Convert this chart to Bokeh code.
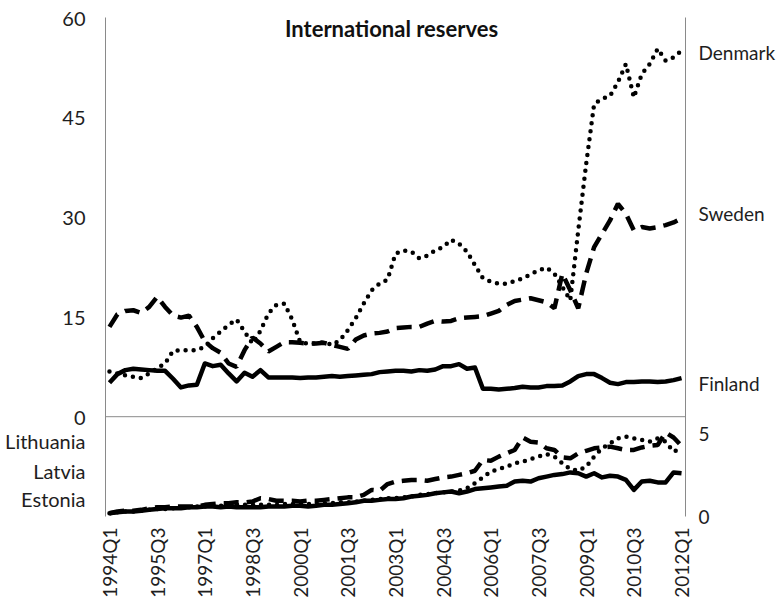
import math
from bokeh.plotting import figure
from bokeh.models import (Range1d, LinearAxis, FixedTicker, Span, Label, ColumnDataSource,
                          NumeralTickFormatter)
from bokeh.embed import file_html
from bokeh.resources import INLINE

# ---------------- data (quarterly, 1994Q1 .. 2012Q1) ----------------
quarters = [f"{y}Q{q}" for y in range(1994, 2013) for q in (1, 2, 3, 4)][:73]
tick_every = 6

denmark = [6.8, 6.5, 6.2, 6.0, 5.8, 6.5, 7.3, 8.0, 9.9, 10.0, 10.0, 10.0, 10.5, 11.8, 12.8, 13.8,
           14.6, 12.8, 11.0, 12.9, 15.5, 16.8, 17.0, 14.6, 11.2, 11.0, 11.0, 11.2, 10.8, 11.5, 13.0, 14.8,
           17.0, 19.0, 20.0, 20.6, 24.5, 25.0, 24.8, 23.8, 24.2, 25.0, 25.5, 26.6, 26.0, 24.8, 22.8, 20.8,
           20.3, 20.0, 20.0, 20.4, 20.8, 21.4, 22.0, 22.4, 21.5, 19.5, 17.5, 28.0, 38.0, 47.0, 47.8, 48.2,
           50.3, 53.0, 48.0, 51.5, 53.0, 55.3, 53.5, 54.0, 55.0]
sweden = [13.5, 15.4, 15.9, 16.0, 15.6, 16.5, 18.0, 16.5, 15.2, 14.9, 15.2, 13.5, 11.3, 10.3, 9.6, 8.0,
          7.5, 10.0, 11.9, 11.0, 9.8, 10.5, 11.2, 11.2, 11.1, 11.0, 11.0, 11.1, 10.8, 10.5, 10.2, 11.6,
          12.2, 12.5, 12.6, 12.8, 13.3, 13.4, 13.5, 13.5, 14.0, 14.4, 14.3, 14.4, 14.8, 14.9, 15.0, 15.1,
          15.5, 15.9, 16.8, 17.4, 17.6, 17.8, 17.5, 17.2, 16.3, 21.5, 19.0, 16.3, 21.5, 25.5, 27.5, 29.5,
          32.0, 30.5, 28.0, 28.5, 28.3, 28.5, 28.8, 29.2, 29.8]
finland = [5.1, 6.4, 7.0, 7.2, 7.1, 7.0, 6.9, 6.9, 5.7, 4.4, 4.7, 4.8, 8.0, 7.6, 7.8, 6.5,
           5.3, 6.6, 6.0, 7.0, 5.9, 5.9, 5.9, 5.9, 5.8, 5.9, 5.9, 6.0, 6.1, 6.0, 6.1, 6.2,
           6.3, 6.4, 6.7, 6.8, 6.9, 6.9, 6.8, 7.0, 6.9, 7.1, 7.6, 7.6, 7.9, 7.2, 7.4, 4.2,
           4.2, 4.1, 4.2, 4.3, 4.5, 4.4, 4.4, 4.6, 4.6, 4.7, 5.3, 6.1, 6.4, 6.4, 5.8, 5.1,
           4.9, 5.2, 5.2, 5.3, 5.3, 5.2, 5.3, 5.5, 5.8]
lithuania = [0.2, 0.25, 0.3, 0.3, 0.35, 0.4, 0.45, 0.45, 0.5, 0.55, 0.55, 0.6, 0.6, 0.65, 0.65, 0.65,
             0.7, 0.7, 0.7, 0.7, 0.7, 0.7, 0.75, 0.75, 0.75, 0.75, 0.75, 0.8, 0.8, 0.85, 0.85, 0.9,
             0.95, 1.0, 1.05, 1.1, 1.1, 1.15, 1.2, 1.3, 1.35, 1.4, 1.45, 1.5, 1.55, 1.7, 2.0, 2.35,
             2.7, 2.85, 3.0, 3.2, 3.3, 3.45, 3.6, 3.75, 3.6, 3.2, 2.85, 2.75, 3.0, 3.6, 4.1, 4.4,
             4.7, 4.8, 4.7, 4.6, 4.5, 4.7, 4.5, 3.9, 4.1]
latvia = [0.2, 0.3, 0.35, 0.35, 0.4, 0.5, 0.55, 0.55, 0.6, 0.6, 0.6, 0.6, 0.7, 0.75, 0.8, 0.8,
          0.85, 0.85, 0.9, 1.1, 1.05, 0.95, 0.95, 0.95, 0.9, 0.95, 0.95, 1.0, 1.05, 1.1, 1.15, 1.15,
          1.3, 1.6, 1.55, 1.95, 2.1, 2.15, 2.2, 2.2, 2.15, 2.25, 2.35, 2.4, 2.5, 2.6, 2.75, 3.4,
          3.35, 3.6, 3.8, 4.0, 4.75, 4.5, 4.45, 4.1, 4.0, 3.55, 3.5, 3.8, 3.95, 4.1, 4.15, 4.2,
          4.1, 4.0, 4.0, 4.15, 4.25, 4.3, 5.05, 4.75, 4.25]
estonia = [0.2, 0.25, 0.3, 0.3, 0.35, 0.4, 0.45, 0.5, 0.5, 0.5, 0.55, 0.55, 0.6, 0.6, 0.55, 0.6,
           0.55, 0.55, 0.55, 0.55, 0.6, 0.6, 0.6, 0.65, 0.65, 0.6, 0.65, 0.7, 0.7, 0.75, 0.8, 0.85,
           0.95, 0.95, 1.0, 1.05, 1.05, 1.1, 1.2, 1.25, 1.3, 1.4, 1.45, 1.5, 1.4, 1.5, 1.65, 1.7,
           1.75, 1.8, 1.85, 2.1, 2.15, 2.1, 2.3, 2.4, 2.5, 2.55, 2.65, 2.6, 2.4, 2.6, 2.35, 2.45,
           2.4, 2.2, 1.6, 2.1, 2.15, 2.05, 2.05, 2.65, 2.6]

top_ticks = [0, 15, 30, 45, 60]
bottom_ticks = [0, 5]
title_text = "International reserves"
# series-name labels, placed as extra axis ticks beside the panels
# (top panel names on the lower-panel scale of the right axis, Baltic names on the left axis)
right_names = {27.9: "Denmark", 18.2: "Sweden", 8: "Finland"}
left_names = {-3.6: "Lithuania", -8.1: "Latvia", -12.3: "Estonia"}

# ---------------- figure ----------------
FONT = "Lato"
n = len(quarters)
xs = list(range(n))

p = figure(width=779, height=604, output_backend="svg", toolbar_location=None,
           x_range=Range1d(-0.5, n - 0.5), y_range=Range1d(-15, 60),
           min_border_left=105, min_border_right=94, min_border_top=17, min_border_bottom=88,
           y_axis_location=None, x_axis_location=None)
p.extra_y_ranges = {"low": Range1d(0, 30)}
p.outline_line_color = None
p.background_fill_color = "white"
p.border_fill_color = "white"
p.xgrid.visible = False
p.ygrid.visible = False

AXIS_GREY = "#8a8a8a"

left = LinearAxis(ticker=FixedTicker(ticks=top_ticks + list(left_names)),
                  formatter=NumeralTickFormatter(format="0"))
left.major_label_overrides = {**{t: str(t) for t in top_ticks}, **left_names}
right = LinearAxis(ticker=FixedTicker(ticks=bottom_ticks + list(right_names)), y_range_name="low",
                   formatter=NumeralTickFormatter(format="0"))
right.major_label_overrides = {**{t: str(t) for t in bottom_ticks}, **right_names}
bottom = LinearAxis(ticker=FixedTicker(ticks=xs[::tick_every]))
bottom.major_label_overrides = {i: quarters[i] for i in xs[::tick_every]}

for ax in (left, right, bottom):
    ax.major_tick_line_color = None
    ax.minor_tick_line_color = None
    ax.major_tick_out = 0
    ax.major_tick_in = 0
    ax.minor_tick_out = 0
    ax.major_label_text_font = FONT
    ax.major_label_text_color = "#1e1e1e"
    ax.axis_line_color = AXIS_GREY
left.major_label_text_font_size = "20px"
left.major_label_standoff = 20
right.major_label_text_font_size = "19px"
right.major_label_standoff = 13
bottom.major_label_text_font_size = "19px"
bottom.axis_line_color = None
bottom.major_label_orientation = math.pi / 2
bottom.major_label_standoff = 11
p.add_layout(left, "left")
p.add_layout(right, "right")
p.add_layout(bottom, "below")

p.add_layout(Span(location=0, dimension="width", line_color=AXIS_GREY, line_width=1))

src = ColumnDataSource(dict(x=xs, dk=denmark, se=sweden, fi=finland,
                            lt=lithuania, lv=latvia, ee=estonia))

LW = 4.5
dot = dict(line_dash="0 8", line_cap="round")
dash = dict(line_dash="15 8", line_cap="butt")

p.line("x", "fi", source=src, line_color="black", line_width=LW, line_join="round")
p.line("x", "se", source=src, line_color="black", line_width=LW, **dash)
p.line("x", "dk", source=src, line_color="black", line_width=LW, **dot)
p.line("x", "ee", source=src, line_color="black", line_width=LW, line_join="round", y_range_name="low")
p.line("x", "lv", source=src, line_color="black", line_width=LW, y_range_name="low", **dash)
p.line("x", "lt", source=src, line_color="black", line_width=LW, y_range_name="low", **dot)

# ---------------- title ----------------
p.add_layout(Label(x=35.5, y=58.4, text=title_text, text_font=FONT, text_font_size="22px",
                   text_font_style="bold", text_align="center", text_baseline="middle",
                   text_color="#111111"))

open("out.html", "w").write(file_html(p, INLINE))
